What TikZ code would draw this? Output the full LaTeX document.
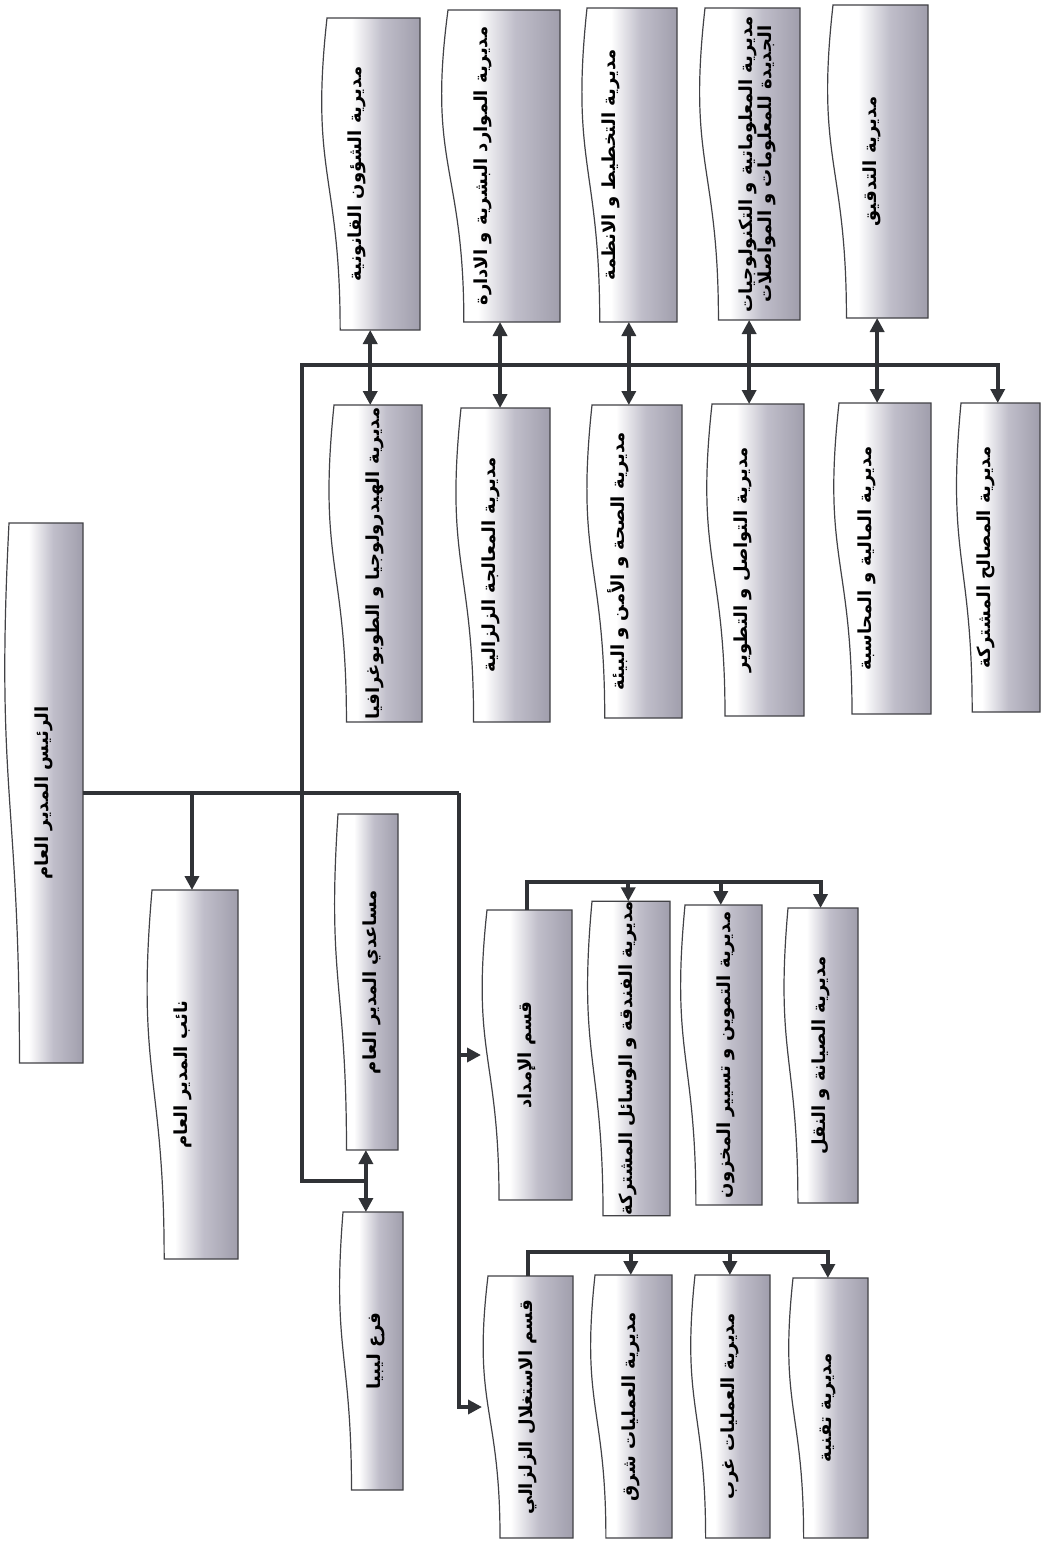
\documentclass[tikz,border=0pt]{standalone}
\usepackage{fontspec}
\usepackage{graphicx}
\usetikzlibrary{arrows.meta,calc,backgrounds}
\TeXXeTstate=1
\newfontfamily\arabicfont[Script=Arabic]{DejaVu Sans}

\definecolor{linegray}{RGB}{48,50,54}
\definecolor{edgegray}{RGB}{66,66,70}
\definecolor{shadeA}{RGB}{192,190,202}
\definecolor{shadeB}{RGB}{160,158,172}
% white on the left, lavender grey on the right; the middle half
% (25bp..75bp) of the bar spans the box
\pgfdeclarehorizontalshading{docshade}{100bp}{color(0bp)=(white); color(25bp)=(white); color(44bp)=(white); color(58bp)=(shadeA); color(75bp)=(shadeB); color(100bp)=(shadeB)}

% right-to-left label, turned to run down the page
\newcommand\labelfont{\arabicfont\bfseries\fontsize{9pt}{11.5pt}\selectfont}
\newcommand\vlabel[1]{\rotatebox{90}{\labelfont\beginR #1\endR}}

\tikzset{
  orgbox/.style={rectangle, draw=none, inner sep=0pt, outer sep=0pt, align=center},
  docpath/.style={draw=edgegray, line width=0.6pt, shade, shading=docshade, shading angle=0},
  conn/.style={draw=linegray, line width=2pt},
  arr/.style={-{Triangle[length=7pt,width=7pt]}},
  darr/.style={{Triangle[length=7pt,width=7pt]}-{Triangle[length=7pt,width=7pt]}},
}

% document-shaped box: [#1 leftward shift of the label, px], #2 name,
% #3 x of the upper end of the wavy side, #4 top, #5 right, #6 bottom, #7 label
\newcommand\orgbox[7][0]{%
  \pgfmathsetmacro\bw{(#5-#3)/0.934}%
  \node[orgbox, minimum width=\bw*0.5pt, minimum height={(#6-#4)*0.5pt}]
    (#2) at ({#5-\bw/2},{(#4+#6)/2}) {#7\hspace*{#1pt}};%
  \begin{scope}[on background layer]
    \path[docpath] (#2.north east) -- (#2.south east)
      -- ($(#2.south east)!0.802!(#2.south west)$)
      .. controls ($(#2.east)!0.802!(#2.west)$) and ($(#2.east)!1.107!(#2.west)$)
      .. ($(#2.north east)!0.934!(#2.north west)$) -- cycle;
  \end{scope}}

\begin{document}
\begin{tikzpicture}[x=0.5pt,y=-0.5pt]
\useasboundingbox (0,0) rectangle (1043,1546);
\begin{scope}[on background layer]
  \fill[white] (0,0) rectangle (1043,1546);
\end{scope}

% management
\orgbox{chief}{9}{523}{83}{1063}{\vlabel{الرئيس المدير العام}}
\orgbox[9]{deputy}{152}{890}{238}{1259}{\vlabel{نائب المدير العام}}
\orgbox[-6]{assist}{338}{814}{398}{1150}{\vlabel{مساعدي المدير العام}}
\orgbox[-5]{libya}{343}{1212}{403}{1490}{\vlabel{فرع ليبيا}}

% departments and their directorates
\orgbox{supply}{487}{910}{572}{1200}{\vlabel{قسم الإمداد}}
\orgbox{hotel}{592}{908}{670}{1209}{\vlabel{مديرية الفندقة و الوسائل المشتركة}}
\orgbox[-5]{stock}{685}{905}{762}{1205}{\vlabel{مديرية التموين و تسيير المخزون}}
\orgbox{maint}{788}{908}{858}{1203}{\vlabel{مديرية الصيانة و النقل}}

\orgbox{seismic}{488}{1276}{573}{1538}{\vlabel{قسم الاستغلال الزلزالي}}
\orgbox{east}{595}{1275}{672}{1538}{\vlabel{مديرية العمليات شرق}}
\orgbox{west}{695}{1275}{770}{1538}{\vlabel{مديرية العمليات غرب}}
\orgbox{tech}{793}{1278}{868}{1538}{\vlabel{مديرية تقنية}}

% central directorates, first row
\orgbox[13]{legal}{327}{18}{420}{330}{\vlabel{مديرية الشؤون القانونية}}
\orgbox[17]{hr}{448}{10}{560}{322}{\vlabel{مديرية الموارد البشرية و الادارة}}
\orgbox[18]{plan}{587}{8}{677}{322}{\vlabel{مديرية التخطيط و الانظمة}}
\orgbox[-8]{info}{705}{8}{800}{320}{\rotatebox{90}{\labelfont\begin{tabular}{@{}c@{}}%
  \beginR مديرية المعلوماتية و التكنولوجيات\endR\\[-2pt]%
  \beginR الجديدة للمعلومات و المواصلات\endR\end{tabular}}}
\orgbox[5]{audit}{833}{5}{928}{318}{\vlabel{مديرية التدقيق}}

% central directorates, second row
\orgbox{hydro}{334}{405}{422}{722}{\vlabel{مديرية الهيدرولوجيا و الطوبوغرافيا}}
\orgbox[12]{proc}{461}{408}{550}{722}{\vlabel{مديرية المعالجة الزلزالية}}
\orgbox[16]{hse}{592}{405}{682}{718}{\vlabel{مديرية الصحة و الأمن و البيئة}}
\orgbox[12]{comm}{712}{404}{804}{716}{\vlabel{مديرية التواصل و التطوير}}
\orgbox[15]{fin}{839}{403}{931}{714}{\vlabel{مديرية المالية و المحاسبة}}
\orgbox[12]{common}{961}{403}{1040}{712}{\vlabel{مديرية المصالح المشتركة}}

% bends of the main connectors
\coordinate (jB) at (459,793);
\coordinate (jAtop) at (302,365);
\coordinate (jAbot) at (302,1181);
\coordinate (sTop) at ($(supply.north)+(0,-28)$);
\coordinate (eTop) at ($(seismic.north)+(0,-24)$);

% from the head to deputy and departments
\draw[conn] (chief.east) -- (jB);
\draw[conn,arr] (chief.east -| deputy.north) -- (deputy.north);
\draw[conn,arr] (jB) |- (seismic.west);
\draw[conn,arr] (jB |- supply.west) -- (supply.west);

% spine to the central directorates and the assistants
\draw[conn,arr] (assist.south |- jAbot) -- (jAbot) -- (jAtop) -| (common.north);
\draw[conn,darr] (assist.south) -- (assist.south |- libya.north);
\foreach \a/\b in {legal/hydro, hr/proc, plan/hse, info/comm, audit/fin}
  \draw[conn,darr] (\a.south) -- (\a.south |- \b.north);

% supply department
\draw[conn,arr] (supply.north) -- (sTop) -| (maint.north);
\draw[conn,arr] (sTop -| hotel.north) -- (hotel.north);
\draw[conn,arr] (sTop -| stock.north) -- (stock.north);

% seismic exploitation department
\draw[conn,arr] (seismic.north) -- (eTop) -| (tech.north);
\draw[conn,arr] (eTop -| east.north) -- (east.north);
\draw[conn,arr] (eTop -| west.north) -- (west.north);
\end{tikzpicture}
\end{document}
